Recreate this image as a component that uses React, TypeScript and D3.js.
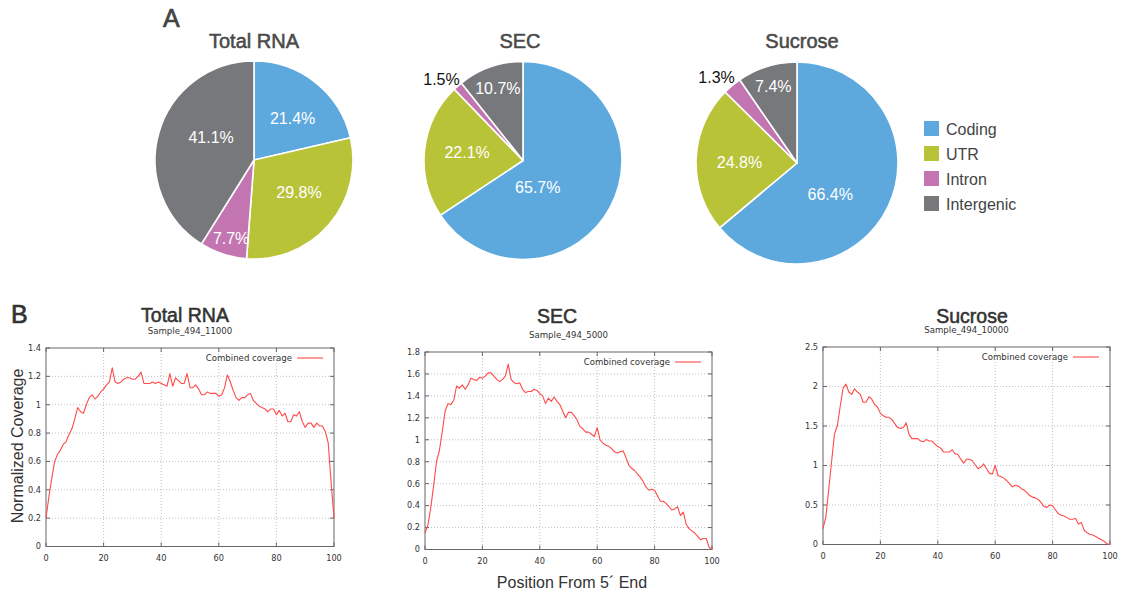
import React from "react";
import * as d3 from "d3";

// ---------- Data ----------
const CATEGORIES = ["Coding", "UTR", "Intron", "Intergenic"];
const CATEGORY_COLORS = ["#5DA9DD", "#B9C337", "#C275B0", "#77787B"];

// printed percentages
const TOTAL_RNA_PCT = [21.4, 29.8, 7.7, 41.1];
const SEC_PCT = [65.7, 22.1, 1.5, 10.7];
const SUCROSE_PCT = [66.4, 24.8, 1.3, 7.4];
// slice sizes as drawn in the figure (Sucrose slices do not follow its labels exactly)
const SUCROSE_SLICE = [63.9, 23.5, 3.0, 9.6];

const PIE_TITLES = ["Total RNA", "SEC", "Sucrose"];
const SAMPLE_NAMES = ["Sample_494_11000", "Sample_494_5000", "Sample_494_10000"];

const X_TICKS = [0, 20, 40, 60, 80, 100];

// Normalized coverage at positions 0..100 from 5' end
const TOTAL_RNA_COV = [
  0.2, 0.35, 0.48, 0.6, 0.65, 0.68, 0.72, 0.74, 0.79, 0.83,
  0.9, 0.98, 0.95, 0.94, 1.0, 1.05, 1.07, 1.04, 1.06, 1.09,
  1.11, 1.14, 1.16, 1.26, 1.16, 1.15, 1.16, 1.18, 1.19, 1.19,
  1.18, 1.18, 1.2, 1.23, 1.15, 1.15, 1.15, 1.16, 1.15, 1.16,
  1.15, 1.14, 1.13, 1.22, 1.13, 1.19, 1.17, 1.15, 1.15, 1.22,
  1.12, 1.12, 1.14, 1.11, 1.07, 1.07, 1.09, 1.08, 1.08, 1.08,
  1.06, 1.07, 1.12, 1.21, 1.16, 1.1, 1.05, 1.03, 1.05, 1.05,
  1.07, 1.08, 1.03, 1.01, 0.99, 0.98, 0.97, 0.95, 0.97, 0.97,
  0.93, 0.96, 0.92, 0.94, 0.88, 0.88, 0.93, 0.92, 0.95, 0.88,
  0.84, 0.87, 0.87, 0.84, 0.87, 0.85, 0.85, 0.81, 0.73, 0.45,
  0.2,
];

const SEC_COV = [
  0.15, 0.22, 0.38, 0.58, 0.8, 0.9, 1.07, 1.26, 1.33, 1.32,
  1.36, 1.49, 1.47, 1.5, 1.46, 1.5, 1.56, 1.55, 1.54, 1.57,
  1.56, 1.58, 1.61, 1.61, 1.58, 1.55, 1.53, 1.55, 1.58, 1.69,
  1.55, 1.52, 1.51, 1.52, 1.46, 1.43, 1.44, 1.44, 1.46, 1.45,
  1.42, 1.4, 1.33, 1.38, 1.35, 1.39, 1.35, 1.32, 1.26, 1.2,
  1.25, 1.25, 1.22, 1.18, 1.12, 1.1, 1.07, 1.07, 1.05, 1.03,
  1.11, 1.0, 0.97, 0.95, 0.94, 0.92, 0.89, 0.88, 0.89, 0.9,
  0.84, 0.77, 0.74, 0.72, 0.69, 0.66, 0.62, 0.57, 0.54, 0.55,
  0.54, 0.49, 0.44, 0.44, 0.42, 0.39, 0.36, 0.37, 0.39, 0.31,
  0.34, 0.23, 0.19, 0.17, 0.15, 0.12, 0.09, 0.1, 0.1, 0.02,
  0.0,
];

const SUCROSE_COV = [
  0.2, 0.35, 0.7, 1.05, 1.4, 1.5, 1.75, 1.98, 2.03, 1.93,
  1.9, 1.97, 1.93, 1.9, 1.8, 1.8, 1.87, 1.84, 1.77, 1.74,
  1.66, 1.63, 1.61, 1.61, 1.58, 1.53, 1.48, 1.47, 1.48, 1.54,
  1.39, 1.34, 1.34, 1.34, 1.31, 1.3, 1.33, 1.31, 1.31, 1.27,
  1.24, 1.22, 1.17, 1.17, 1.17, 1.2, 1.15, 1.14, 1.08, 1.03,
  1.08, 1.08, 1.06, 1.01, 0.96, 0.98, 1.02, 0.96, 0.9, 0.89,
  1.0, 0.87, 0.86, 0.84, 0.81, 0.77, 0.73, 0.75, 0.74, 0.71,
  0.69, 0.66, 0.62, 0.6, 0.59, 0.57, 0.53, 0.48, 0.47, 0.5,
  0.49, 0.44, 0.39, 0.37, 0.36, 0.34, 0.32, 0.32, 0.33, 0.26,
  0.28, 0.18, 0.15, 0.13, 0.12, 0.1, 0.08, 0.06, 0.04, 0.01,
  0.0,
];

// ---------- Layout / style ----------
const W = 1121;
const H = 596;
const SANS = "'Liberation Sans', Arial, Helvetica, sans-serif";
const PLOT_FONT = "'DejaVu Sans', Verdana, sans-serif";

const PIES = [
  { values: TOTAL_RNA_PCT, labels: TOTAL_RNA_PCT, cx: 254, cy: 160, r: 99, titleX: 254,
    labelR: [0.57, 0.56, 0.83, 0.49], labelShift: [4.7, -4.9, -2, 11.9] },
  { values: SEC_PCT, labels: SEC_PCT, cx: 523, cy: 160.5, r: 99, titleX: 520,
    labelR: [0.31, 0.57, 1.16, 0.77], labelShift: [33, 1.4, -4, 0] },
  { values: SUCROSE_SLICE, labels: SUCROSE_PCT, cx: 797, cy: 163, r: 101, titleX: 802,
    labelR: [0.45, 0.57, 1.16, 0.79], labelShift: [18.1, -2, -3.4, 0] },
];

const LINES = [
  { values: TOTAL_RNA_COV, left: 46, right: 334, top: 348, bottom: 546.5,
    yMax: 1.4, yStep: 0.2, titleX: 185, titleY: 322, sampleY: 334 },
  { values: SEC_COV, left: 425, right: 712, top: 352, bottom: 549.5,
    yMax: 1.8, yStep: 0.2, titleX: 557, titleY: 323, sampleY: 338 },
  { values: SUCROSE_COV, left: 823, right: 1110, top: 347, bottom: 544.5,
    yMax: 2.5, yStep: 0.5, titleX: 972, titleY: 323, sampleY: 333 },
];

const fmtTick = (v: number) => String(+v.toFixed(2));

function Pie({ cfg, title }: any) {
  const pie = d3.pie<number>().sort(null).value((d) => d);
  const arcs = pie(cfg.values);
  const arcGen = d3.arc<any>().innerRadius(0).outerRadius(cfg.r);
  return (
    <g>
      <text x={cfg.titleX} y={48} textAnchor="middle" fontFamily={SANS}
        fontSize={20} fill="#4a4a4a" stroke="#4a4a4a" strokeWidth={0.55}>{title}</text>
      <g transform={`translate(${cfg.cx},${cfg.cy})`}>
        {arcs.map((a, i) => (
          <path key={i} d={arcGen(a) || ""} fill={CATEGORY_COLORS[i]}
            stroke="#fff" strokeWidth={1.6} strokeLinejoin="round" />
        ))}
        {arcs.map((a, i) => {
          const mid = (a.startAngle + a.endAngle) / 2 + (cfg.labelShift[i] * Math.PI) / 180;
          const rr = cfg.r * cfg.labelR[i];
          const x = Math.sin(mid) * rr;
          const y = -Math.cos(mid) * rr;
          const outside = cfg.labelR[i] > 1;
          return (
            <text key={"l" + i} x={x} y={y} textAnchor="middle" dominantBaseline="central"
              fontFamily={SANS} fontSize={16} fill={outside ? "#111" : "#fff"}>
              {`${cfg.labels[i].toFixed(1)}%`}
            </text>
          );
        })}
      </g>
    </g>
  );
}

function CoverageChart({ cfg, title, sample }: any) {
  const x = d3.scaleLinear().domain([0, 100]).range([cfg.left, cfg.right]);
  const y = d3.scaleLinear().domain([0, cfg.yMax]).range([cfg.bottom, cfg.top]);
  const yTicks = d3.range(0, cfg.yMax + 1e-9, cfg.yStep);
  const line = d3.line<number>().x((_, i) => x(i)).y((d) => y(d));
  const tickLen = 4;
  const frame = "#666";
  const grid = "#b0b0b0";
  const plotW = cfg.right - cfg.left;
  return (
    <g>
      <text x={cfg.titleX} y={cfg.titleY} textAnchor="middle" fontFamily={SANS}
        fontSize={19.5} fill="#333" stroke="#333" strokeWidth={0.55}>{title}</text>
      <text x={(cfg.left + cfg.right) / 2} y={cfg.sampleY} textAnchor="middle"
        fontFamily={PLOT_FONT} fontSize={8.6} fill="#333">{sample}</text>
      {yTicks.slice(1, -1).map((t: number) => (
        <line key={"gy" + t} x1={cfg.left} x2={cfg.right} y1={y(t)} y2={y(t)}
          stroke={grid} strokeWidth={0.8} strokeDasharray="1,2" />
      ))}
      {X_TICKS.slice(1, -1).map((t) => (
        <line key={"gx" + t} x1={x(t)} x2={x(t)} y1={cfg.top} y2={cfg.bottom}
          stroke={grid} strokeWidth={0.8} strokeDasharray="1,2" />
      ))}
      {yTicks.map((t: number) => (
        <g key={"ty" + t}>
          <line x1={cfg.left} x2={cfg.left + tickLen} y1={y(t)} y2={y(t)} stroke={frame} />
          <line x1={cfg.right} x2={cfg.right - tickLen} y1={y(t)} y2={y(t)} stroke={frame} />
          <text x={cfg.left - 5} y={y(t)} dy="0.35em" textAnchor="end"
            fontFamily={PLOT_FONT} fontSize={8.2} fill="#333">{fmtTick(t)}</text>
        </g>
      ))}
      {X_TICKS.map((t) => (
        <g key={"tx" + t}>
          <line x1={x(t)} x2={x(t)} y1={cfg.bottom} y2={cfg.bottom - tickLen} stroke={frame} />
          <line x1={x(t)} x2={x(t)} y1={cfg.top} y2={cfg.top + tickLen} stroke={frame} />
          <text x={x(t)} y={cfg.bottom + 14} textAnchor="middle"
            fontFamily={PLOT_FONT} fontSize={8.2} fill="#333">{t}</text>
        </g>
      ))}
      <rect x={cfg.left} y={cfg.top} width={plotW} height={cfg.bottom - cfg.top}
        fill="none" stroke={frame} strokeWidth={1} />
      <text x={cfg.right - 42} y={cfg.top + 10} dy="0.35em" textAnchor="end"
        fontFamily={PLOT_FONT} fontSize={8.6} fill="#333">Combined coverage</text>
      <line x1={cfg.right - 37} x2={cfg.right - 11} y1={cfg.top + 10} y2={cfg.top + 10}
        stroke="#ff4a4a" strokeWidth={1.1} />
      <path d={line(cfg.values) || ""} fill="none" stroke="#ff4a4a" strokeWidth={1.1}
        strokeLinejoin="round" />
    </g>
  );
}

export default function App() {
  return (
    <svg width={W} height={H} viewBox={`0 0 ${W} ${H}`}
      style={{ position: "absolute", left: 0, top: 0, background: "#fff" }}>
      <rect width={W} height={H} fill="#fff" />
      <text x={163} y={27} fontFamily={SANS} fontSize={25} fill="#444"
        stroke="#444" strokeWidth={0.7}>A</text>
      <text x={11} y={323} fontFamily={SANS} fontSize={25} fill="#333"
        stroke="#333" strokeWidth={0.7}>B</text>

      {PIES.map((p, i) => (
        <Pie key={i} cfg={p} title={PIE_TITLES[i]} />
      ))}

      {CATEGORIES.map((c, i) => (
        <g key={c}>
          <rect x={924} y={121 + i * 25} width={15} height={15} fill={CATEGORY_COLORS[i]} />
          <text x={946} y={135 + i * 25} fontFamily={SANS} fontSize={16} fill="#444">{c}</text>
        </g>
      ))}

      {LINES.map((l, i) => (
        <CoverageChart key={i} cfg={l} title={PIE_TITLES[i]} sample={SAMPLE_NAMES[i]} />
      ))}

      <text transform="translate(23,446) rotate(-90)" textAnchor="middle"
        fontFamily={SANS} fontSize={16} fill="#333">Normalized Coverage</text>
      <text x={572} y={588} textAnchor="middle" fontFamily={SANS} fontSize={16}
        fill="#333">Position From 5´ End</text>
    </svg>
  );
}
